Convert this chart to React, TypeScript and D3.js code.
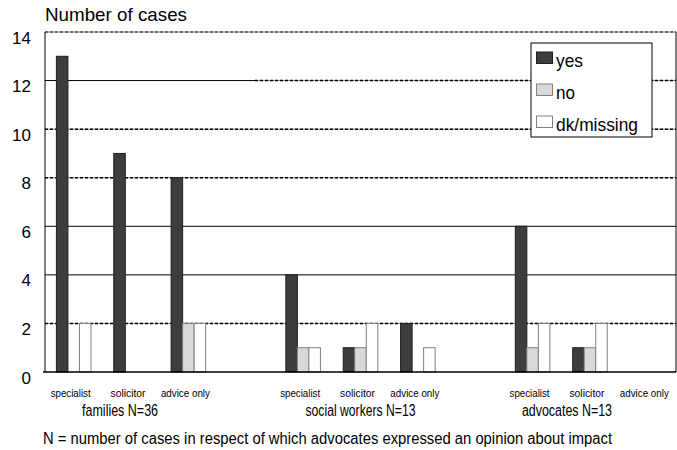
import React from "react";
import * as d3 from "d3";

// ---- data ----
const groups = ["families N=36", "social workers N=13", "advocates N=13"];
const subCategories = ["specialist", "solicitor", "advice only"];
const seriesNames = ["yes", "no", "dk/missing"];
// values per group, per sub-category (specialist, solicitor, advice only)
const yesValues = [13, 9, 8, 4, 1, 2, 6, 1, 0];
const noValues = [0, 0, 2, 1, 1, 0, 1, 1, 0];
const dkValues = [2, 0, 2, 1, 2, 1, 2, 2, 0];
const yTicks = [0, 2, 4, 6, 8, 10, 12, 14];

// ---- layout ----
const W = 677;
const H = 450;
const plot = { left: 45, right: 676, top: 32, bottom: 372 };
const FONT = "'Liberation Sans', Arial, Helvetica, sans-serif";
const fills = ["#3d3d3d", "#d9d9d9", "#ffffff"];
const strokes = ["#1e1e1e", "#808080", "#808080"];
const groupLabelShift = [-11, 0, -23];
const subLabelWidths = [40, 35, 49];
const groupLabelWidths = [76, 110, 90];
const dashedTicks = new Set([2, 8, 10]);

export default function App() {
  // slots: each group has 3 sub-categories plus a spacer slot between groups
  const slotKeys: string[] = [];
  groups.forEach((g, gi) => {
    subCategories.forEach((s) => slotKeys.push(`${g}|${s}`));
    if (gi < groups.length - 1) slotKeys.push(`gap${gi}`);
  });

  const x0 = d3.scaleBand<string>().domain(slotKeys).range([plot.left, plot.right]).padding(0);
  const x1 = d3
    .scaleBand<string>()
    .domain(seriesNames)
    .range([0, x0.bandwidth()])
    .paddingInner(0)
    .paddingOuter(0.99);
  const y = d3.scaleLinear().domain([0, 14]).range([plot.bottom, plot.top]);

  const seriesValues = [yesValues, noValues, dkValues];

  const bars: React.ReactNode[] = [];
  const subLabels: React.ReactNode[] = [];
  groups.forEach((g, gi) => {
    subCategories.forEach((s, si) => {
      const key = `${g}|${s}`;
      const idx = gi * 3 + si;
      const bx = x0(key)!;
      seriesNames.forEach((name, k) => {
        const v = seriesValues[k][idx];
        if (v <= 0) return;
        bars.push(
          <rect
            key={`${key}-${name}`}
            x={bx + x1(name)!}
            y={y(v)}
            width={x1.bandwidth()}
            height={y(0) - y(v)}
            fill={fills[k]}
            stroke={strokes[k]}
            strokeWidth={1}
          />
        );
      });
      subLabels.push(
        <text
          key={`lbl-${key}`}
          x={bx + x0.bandwidth() / 2 - 3}
          y={397}
          textAnchor="middle"
          fontSize={11.5}
          textLength={subLabelWidths[si]}
          lengthAdjust="spacingAndGlyphs"
        >
          {s}
        </text>
      );
    });
  });

  const groupLabels = groups.map((g, gi) => {
    const key = `${g}|${subCategories[1]}`;
    const cx = x0(key)! + x0.bandwidth() / 2 + groupLabelShift[gi];
    return (
      <text
        key={`g-${g}`}
        x={cx}
        y={416}
        textAnchor="middle"
        fontSize={16}
        textLength={groupLabelWidths[gi]}
        lengthAdjust="spacingAndGlyphs"
      >
        {g}
      </text>
    );
  });

  const grid = yTicks
    .filter((t) => t > 0)
    .map((t) => {
      const yy = y(t);
      if (t === 14) {
        return (
          <g key={`grid-${t}`}>
            <line x1={plot.left} x2={plot.right} y1={yy} y2={yy} stroke="#777" strokeWidth={1} />
            <line x1={plot.left} x2={plot.right} y1={yy} y2={yy} stroke="#222" strokeWidth={1} strokeDasharray="3,2" />
          </g>
        );
      }
      if (t === 12) {
        const split = 255;
        return (
          <g key={`grid-${t}`}>
            <line x1={plot.left} x2={split} y1={yy} y2={yy} stroke="#000" strokeWidth={1} />
            <line x1={split} x2={plot.right} y1={yy} y2={yy} stroke="#888" strokeWidth={1} />
            <line x1={split} x2={plot.right} y1={yy} y2={yy} stroke="#000" strokeWidth={1.5} strokeDasharray="3,2" />
          </g>
        );
      }
      if (dashedTicks.has(t)) {
        return (
          <g key={`grid-${t}`}>
            <line x1={plot.left} x2={plot.right} y1={yy} y2={yy} stroke="#888" strokeWidth={1} />
            <line x1={plot.left} x2={plot.right} y1={yy} y2={yy} stroke="#000" strokeWidth={1.5} strokeDasharray="3,2" />
          </g>
        );
      }
      return <line key={`grid-${t}`} x1={plot.left} x2={plot.right} y1={yy} y2={yy} stroke="#000" strokeWidth={1} />;
    });

  const legendX = 531;
  const legendY = 43;

  return (
    <svg
      width={W}
      height={H}
      viewBox={`0 0 ${W} ${H}`}
      style={{ position: "absolute", left: 0, top: 0, background: "#fff" }}
      fontFamily={FONT}
      fill="#000"
    >
      <rect x={0} y={0} width={W} height={H} fill="#fff" />
      <text x={45} y={21} fontSize={19} textLength={142} lengthAdjust="spacingAndGlyphs">
        Number of cases
      </text>

      {grid}

      {/* frame */}
      <line x1={plot.left} x2={plot.left} y1={plot.top} y2={plot.bottom} stroke="#000" strokeWidth={1} />
      <line x1={plot.right} x2={plot.right} y1={plot.top} y2={plot.bottom} stroke="#000" strokeWidth={1} />

      {bars}

      <line x1={plot.left - 2} x2={plot.right} y1={plot.bottom} y2={plot.bottom} stroke="#000" strokeWidth={1.3} />

      {yTicks.map((t) => (
        <text key={`yt-${t}`} x={31} y={y(t) + 11.5} textAnchor="end" fontSize={17}>
          {t}
        </text>
      ))}

      {subLabels}
      {groupLabels}

      {/* legend */}
      <rect x={legendX} y={legendY} width={121} height={94} fill="#fff" stroke="#000" strokeWidth={1} />
      {seriesNames.map((name, k) => (
        <g key={`leg-${name}`}>
          <rect
            x={536.5}
            y={52 + k * 32}
            width={16}
            height={11.5}
            fill={fills[k]}
            stroke={strokes[k]}
            strokeWidth={1}
          />
          <text
            x={556}
            y={67 + k * 32}
            fontSize={19}
            textLength={name === "dk/missing" ? 82 : name === "yes" ? 27 : 19}
            lengthAdjust="spacingAndGlyphs"
          >
            {name}
          </text>
        </g>
      ))}

      <text x={43} y={444} fontSize={16} textLength={569} lengthAdjust="spacingAndGlyphs">
        N = number of cases in respect of which advocates expressed an opinion about impact
      </text>
    </svg>
  );
}
